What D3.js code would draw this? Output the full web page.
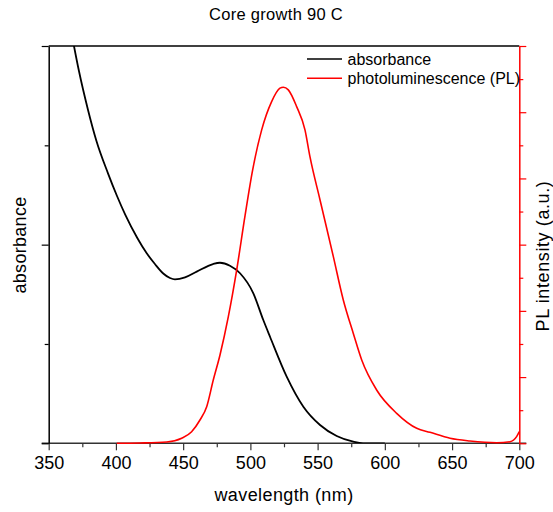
<!DOCTYPE html>
<html>
<head>
<meta charset="utf-8">
<script src="https://cdn.jsdelivr.net/npm/d3@7"></script>
<style>
  html, body { margin: 0; padding: 0; background: #fff; }
  svg { display: block; font-family: "Liberation Sans", Arial, sans-serif; }
</style>
</head>
<body>
<svg id="chart" width="553" height="512"></svg>
<script>
// ---- data ----
const title = "Core growth 90 C";
const xTicks = [350, 400, 450, 500, 550, 600, 650, 700];

const absWavelength = [362, 365, 368.8, 372.5, 379.2, 385.4, 394.1, 400.8, 407.0, 415.9, 422.9, 429.0, 435.2, 440.2, 443.9, 451.4, 460.1, 472.2, 477.4, 484.8, 492.3, 502.2, 509.6, 514.6, 527.0, 539.4, 551.8, 564.2, 576.5, 583.8, 600];
const absValue      = [0.452, 0.428, 0.400, 0.3748, 0.3359, 0.3049, 0.2718, 0.2490, 0.2300, 0.2067, 0.1913, 0.1805, 0.1710, 0.1664, 0.1650, 0.1670, 0.1728, 0.1805, 0.1818, 0.1788, 0.1712, 0.1510, 0.1241, 0.1073, 0.0671, 0.0368, 0.0184, 0.0073, 0.0016, 0.0, 0.0];

const plWavelength = [400.6, 417.9, 437.8, 448.9, 456.3, 462.5, 467.5, 472.4, 477.4, 483.6, 489.7, 496.0, 501.7, 508.4, 515.8, 522.0, 524.5, 528.2, 534.4, 540.6, 544.3, 551.8, 561.7, 569.1, 576.5, 582.8, 593.9, 608.8, 623.7, 633.6, 648.5, 663.3, 683.2, 693.1, 698.0, 700];
const plValue      = [0.0, 0.005, 0.02, 0.076, 0.175, 0.352, 0.553, 0.956, 1.334, 1.912, 2.603, 3.434, 4.128, 4.733, 5.160, 5.363, 5.378, 5.337, 5.085, 4.733, 4.329, 3.675, 2.819, 2.165, 1.662, 1.258, 0.805, 0.453, 0.227, 0.166, 0.076, 0.035, 0.009, 0.024, 0.100, 0.175];

const legendLabels = ["absorbance", "photoluminescence (PL)"];
const seriesColors = ["#000000", "#ff0000"];

// ---- layout ----
const svg = d3.select("#chart");
const L = 48.7, R = 519.3, T = 46, B = 443.3;

const x = d3.scaleLinear().domain([350, 700]).range([L, R]);
const yAbs = d3.scaleLinear().domain([0, 0.4]).range([B, T]);
const yPL = d3.scaleLinear().domain([0, 6]).range([B, T]);

svg.append("defs").append("clipPath").attr("id", "clip")
  .append("rect").attr("x", L).attr("y", T).attr("width", R - L).attr("height", B - T);

// title
svg.append("text").attr("x", 276).attr("y", 20).attr("text-anchor", "middle")
  .attr("font-size", 16.5).attr("letter-spacing", 0.3).text(title);

// top frame
svg.append("line").attr("x1", L).attr("x2", R).attr("y1", T).attr("y2", T)
  .attr("stroke", "#000").attr("stroke-width", 1.3);

// bottom axis minor ticks
const gxMinor = svg.append("g").attr("transform", `translate(0,${B})`)
  .call(d3.axisBottom(x).tickValues(d3.range(375, 700, 50)).tickSize(4).tickFormat(""));
gxMinor.select(".domain").remove();
gxMinor.selectAll("line").attr("stroke", "#333").attr("stroke-width", 1.2);

const gx = svg.append("g").attr("transform", `translate(0,${B})`)
  .call(d3.axisBottom(x).tickValues(xTicks).tickSize(7).tickSizeOuter(0).tickPadding(6).tickFormat(d3.format("d")));
gx.select(".domain").attr("stroke", "#333").attr("stroke-width", 1.5)
  .attr("d", `M${L - 7},0H${R + 7}`);
gx.selectAll("line").attr("stroke", "#333").attr("stroke-width", 1.2);
gx.selectAll("text").attr("font-size", 18).attr("fill", "#000")
  .attr("font-family", '"Liberation Sans", Arial, sans-serif');

// left axis
const gyMinor = svg.append("g").attr("transform", `translate(${L},0)`)
  .call(d3.axisLeft(yAbs).tickValues([0.1, 0.3]).tickSize(4).tickFormat(""));
gyMinor.select(".domain").remove();
gyMinor.selectAll("line").attr("stroke", "#000").attr("stroke-width", 1.2);
const gy = svg.append("g").attr("transform", `translate(${L},0)`)
  .call(d3.axisLeft(yAbs).tickValues([0, 0.2, 0.4]).tickSize(7).tickSizeOuter(0).tickFormat(""));
gy.select(".domain").attr("stroke", "#000").attr("stroke-width", 1.5);
gy.selectAll("line").attr("stroke", "#000").attr("stroke-width", 1.2);

// right axis (red)
const gr = svg.append("g").attr("transform", `translate(${R},0)`)
  .call(d3.axisRight(yPL).tickValues(d3.range(0.5, 6, 1)).tickSize(4).tickFormat(""));
gr.select(".domain").remove();
gr.selectAll("line").attr("stroke", "#ff0000").attr("stroke-width", 1.2);
const gr2 = svg.append("g").attr("transform", `translate(${R},0)`)
  .call(d3.axisRight(yPL).tickValues(d3.range(0, 7, 1)).tickSize(7).tickSizeOuter(0).tickFormat(""));
gr2.select(".domain").attr("stroke", "#ff0000").attr("stroke-width", 1.5);
gr2.selectAll("line").attr("stroke", "#ff0000").attr("stroke-width", 1.2);

// axis titles
svg.append("text").attr("x", 284).attr("y", 501).attr("text-anchor", "middle")
  .attr("font-size", 18).attr("letter-spacing", 0.4).text("wavelength (nm)");
svg.append("text").attr("transform", "translate(26,245) rotate(-90)").attr("text-anchor", "middle")
  .attr("font-size", 18).attr("letter-spacing", 0.3).text("absorbance");
svg.append("text").attr("transform", "translate(549,256) rotate(-90)").attr("text-anchor", "middle")
  .attr("font-size", 18).attr("letter-spacing", 0.6).text("PL intensity (a.u.)");

// lines
const plot = svg.append("g").attr("clip-path", "url(#clip)");
const absData = absWavelength.map((w, i) => [w, absValue[i]]);
const plData = plWavelength.map((w, i) => [w, plValue[i]]);

plot.append("path").datum(absData)
  .attr("fill", "none").attr("stroke", seriesColors[0]).attr("stroke-width", 1.8)
  .attr("d", d3.line().x(d => x(d[0])).y(d => yAbs(d[1])).curve(d3.curveMonotoneX));
svg.append("path").datum(plData)
  .attr("fill", "none").attr("stroke", seriesColors[1]).attr("stroke-width", 1.6)
  .attr("d", d3.line().x(d => x(d[0])).y(d => yPL(d[1])).curve(d3.curveMonotoneX));

// legend
const leg = svg.append("g");
legendLabels.forEach((lab, i) => {
  const yy = 59 + i * 19.3;
  leg.append("line").attr("x1", 307).attr("x2", 342).attr("y1", yy).attr("y2", yy)
    .attr("stroke", seriesColors[i]).attr("stroke-width", 1.6);
  leg.append("text").attr("x", 347.5).attr("y", yy + 5.5).attr("font-size", 16).text(lab);
});
</script>
</body>
</html>
